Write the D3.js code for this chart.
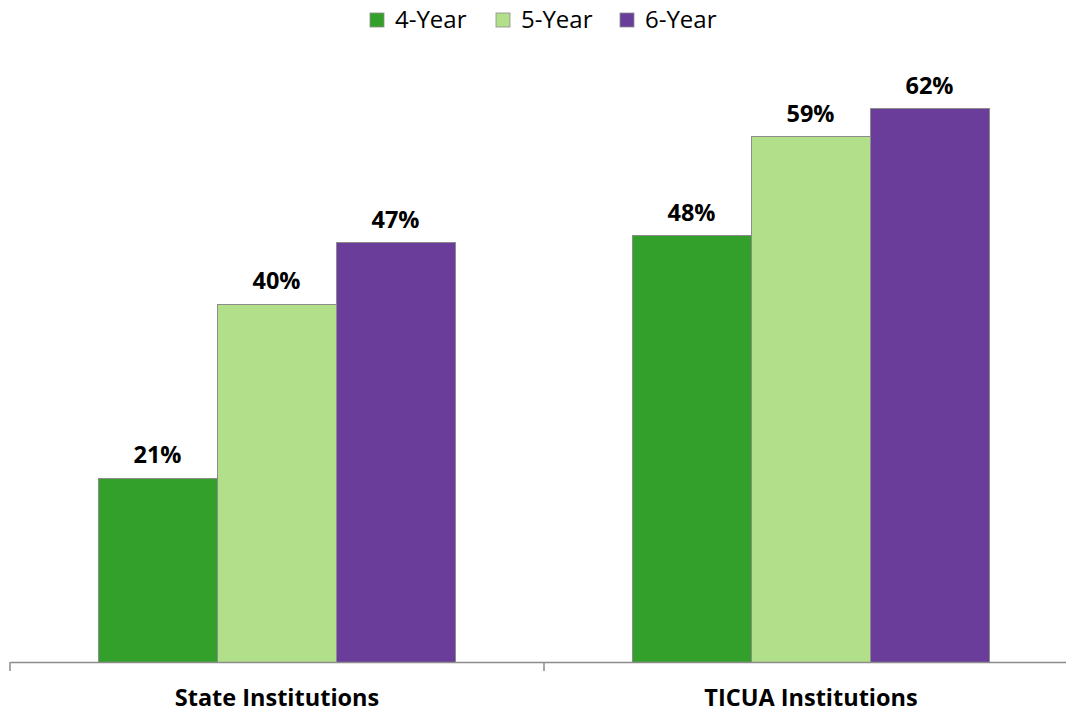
<!DOCTYPE html>
<html>
<head>
<meta charset="utf-8">
<script src="https://cdn.jsdelivr.net/npm/d3@7"></script>
<style>
  body { margin: 0; background: #fff; }
  text { font-family: "Open Sans", "Noto Sans", sans-serif; }
</style>
</head>
<body>
<div id="chart"></div>
<script>
const categories = ["State Institutions", "TICUA Institutions"];
const series = ["4-Year", "5-Year", "6-Year"];
const colors = ["#33a02c", "#b2df8a", "#6a3d9a"];
// graduation rates (%)
const rate4 = [20.6, 47.8];
const rate5 = [40.1, 58.9];
const rate6 = [47.0, 62.0];
const labels4 = ["21%", "48%"];
const labels5 = ["40%", "59%"];
const labels6 = ["47%", "62%"];

const width = 1066, height = 712;
const margin = { top: 37.6, left: 10 };

const rows = [];
categories.forEach((c, i) => {
    rows.push({ cat: c, s: series[0], v: rate4[i], label: labels4[i] });
    rows.push({ cat: c, s: series[1], v: rate5[i], label: labels5[i] });
    rows.push({ cat: c, s: series[2], v: rate6[i], label: labels6[i] });
});

const svg = d3.select("#chart").append("svg")
    .attr("width", width)
    .attr("height", height);

const xScale = d3.scaleBand()
    .domain(categories)
    .range([margin.left, 1078]);

const xInner = d3.scaleBand()
    .domain(series)
    .range([88, 445]);

const yScale = d3.scaleLinear()
    .domain([0, 70])
    .range([662, margin.top]);

const color = d3.scaleOrdinal().domain(series).range(colors);

// bars
svg.append("g").selectAll("rect")
    .data(rows)
    .enter().append("rect")
    .attr("x", d => xScale(d.cat) + xInner(d.s))
    .attr("y", d => yScale(d.v))
    .attr("width", xInner.bandwidth())
    .attr("height", d => yScale(0) - yScale(d.v))
    .attr("fill", d => color(d.s))
    .attr("stroke", "#8c8c8c")
    .attr("stroke-width", 1)
    .attr("shape-rendering", "crispEdges");

// value labels
svg.append("g").selectAll("text")
    .data(rows)
    .enter().append("text")
    .attr("x", d => xScale(d.cat) + xInner(d.s) + xInner.bandwidth() / 2)
    .attr("y", d => yScale(d.v) - 15)
    .attr("text-anchor", "middle")
    .attr("font-size", 23.5)
    .attr("font-weight", "bold")
    .attr("fill", "#000")
    .text(d => d.label);

// x axis
const xAxis = svg.append("g")
    .attr("transform", `translate(0, ${yScale(0)})`)
    .call(d3.axisBottom(xScale).tickSize(0).tickFormat(""));
xAxis.select(".domain").attr("stroke", "#8c8c8c").attr("stroke-width", 1.5);

svg.append("g").selectAll("line")
    .data(categories)
    .enter().append("line")
    .attr("x1", d => xScale(d))
    .attr("x2", d => xScale(d))
    .attr("y1", yScale(0))
    .attr("y2", yScale(0) + 9)
    .attr("stroke", "#8c8c8c")
    .attr("stroke-width", 1.5);

svg.append("g").selectAll("text")
    .data(categories)
    .enter().append("text")
    .attr("x", d => xScale(d) + 267)
    .attr("y", 706)
    .attr("text-anchor", "middle")
    .attr("font-size", 23.5)
    .attr("font-weight", "bold")
    .attr("fill", "#000")
    .text(d => d);

// legend
const legendX = [370, 496, 620];
const legend = svg.append("g").selectAll("g")
    .data(series)
    .enter().append("g")
    .attr("transform", (d, i) => `translate(${legendX[i]}, 13)`);

legend.append("rect")
    .attr("width", 14)
    .attr("height", 14)
    .attr("fill", d => color(d))
    .attr("stroke", "#8c8c8c")
    .attr("stroke-width", 0.8);

legend.append("text")
    .attr("x", 25)
    .attr("y", 15)
    .attr("font-size", 24)
    .attr("fill", "#000")
    .text(d => d);
</script>
</body>
</html>
